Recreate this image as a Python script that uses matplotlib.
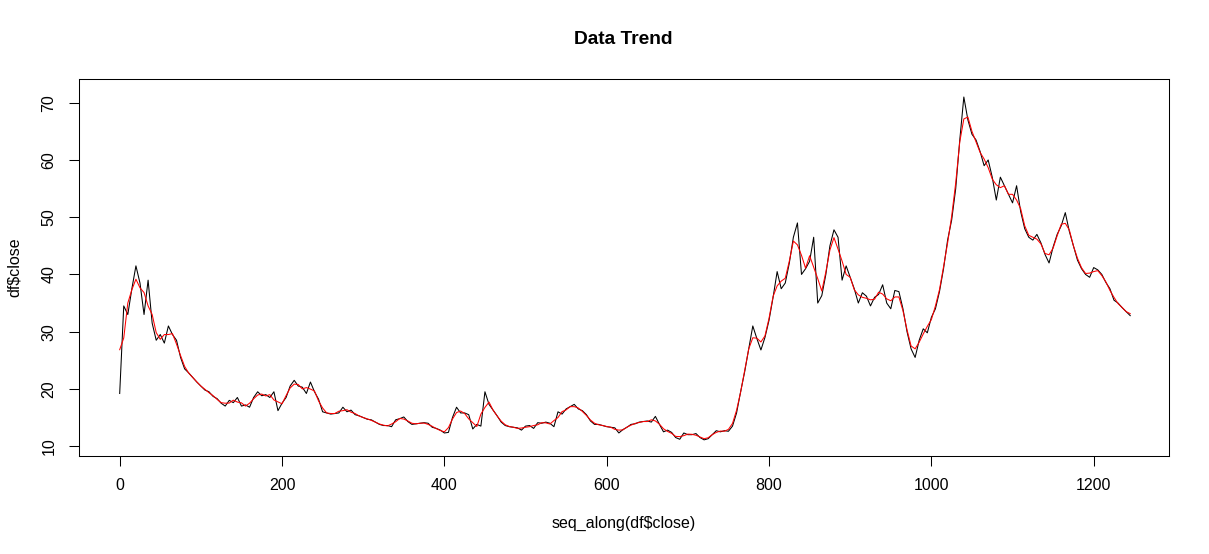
import numpy as np
import pandas as pd
import matplotlib
matplotlib.use("Agg")
import matplotlib.pyplot as plt

plt.rcParams['font.family'] = ['Liberation Sans', 'DejaVu Sans']

# index step of the sampled series
step = 5
close = [
    19.2, 34.5, 33.0, 37.5, 41.5, 38.5, 33.0, 39.0, 31.5, 28.5,
    29.5, 28.0, 31.0, 29.5, 28.5, 25.5, 23.5, 22.8, 22.0, 21.2,
    20.5, 19.8, 19.5, 18.7, 18.3, 17.5, 17.0, 18.0, 17.6, 18.5,
    17.0, 17.2, 16.8, 18.5, 19.5, 18.8, 19.0, 18.5, 19.5, 16.2,
    17.5, 18.5, 20.5, 21.5, 20.5, 20.3, 19.2, 21.2, 19.5, 18.2,
    16.0, 15.8, 15.6, 15.7, 15.8, 16.8, 16.0, 16.3, 15.5, 15.3,
    15.0, 14.7, 14.6, 14.2, 13.8, 13.6, 13.6, 13.4, 14.6, 14.8,
    15.1, 14.3, 13.8, 13.9, 14.0, 14.1, 14.0, 13.3, 13.1, 12.8,
    12.3, 12.4, 15.0, 16.8, 15.8, 15.8, 15.5, 13.0, 13.8, 13.5,
    19.5, 17.3, 16.3, 15.3, 14.2, 13.6, 13.4, 13.3, 13.2, 12.8,
    13.5, 13.6, 13.1, 14.1, 14.0, 14.2, 14.0, 13.4, 16.0, 15.6,
    16.5, 16.9, 17.3, 16.5, 16.2, 15.5, 14.4, 13.8, 13.8, 13.6,
    13.4, 13.3, 13.2, 12.3, 12.9, 13.3, 13.8, 13.9, 14.2, 14.3,
    14.4, 14.2, 15.2, 13.8, 12.5, 12.8, 12.4, 11.5, 11.2, 12.3,
    12.0, 12.0, 12.2, 11.5, 11.1, 11.3, 12.0, 12.7, 12.5, 12.7,
    12.6, 13.5, 15.8, 19.5, 23.0, 27.0, 31.0, 28.8, 26.8, 29.0,
    32.0, 36.0, 40.5, 37.5, 38.5, 42.0, 46.5, 49.0, 40.0, 41.0,
    42.3, 46.5, 35.0, 36.3, 40.0, 45.0, 47.8, 46.5, 39.0, 41.5,
    39.5, 37.5, 35.0, 36.8, 36.2, 34.5, 36.0, 36.5, 38.2, 35.0,
    34.0, 37.2, 37.0, 34.0, 30.0, 27.0, 25.5, 28.5, 30.5, 29.8,
    32.5, 34.0, 37.0, 41.0, 46.0, 49.5, 55.0, 63.5, 71.0, 67.0,
    64.5, 63.5, 61.5, 59.0, 60.0, 57.0, 53.0, 57.0, 55.5, 54.0,
    52.5, 55.5, 51.0, 48.0, 46.5, 46.0, 47.0, 45.5, 43.5, 42.0,
    44.8, 47.0, 48.5, 50.8, 47.5, 45.0, 42.5, 41.0, 40.0, 39.5,
    41.2, 40.8, 40.0, 38.6, 37.5, 35.5, 35.0, 34.2, 33.5, 32.8,
]
index = np.arange(len(close)) * step
smooth = pd.Series(close).rolling(window=3, center=True, min_periods=1).mean().values

x_ticks = [0, 200, 400, 600, 800, 1000, 1200]
y_ticks = [10, 20, 30, 40, 50, 60, 70]

W, H = 1209, 554
fig = plt.figure(figsize=(W / 100, H / 100), dpi=100)
ax = fig.add_axes([78.7 / W, 1 - 456.1 / H, (1168.7 - 78.7) / W, (456.1 - 78.7) / H])

ax.plot(index, close, color='black', lw=0.75)
ax.plot(index, smooth, color='red', lw=0.75)

ax.set_xlim(-50.5, 1292.4)
ax.set_ylim(8.26, 74.2)
ax.set_xticks(x_ticks)
ax.set_yticks(y_ticks)
ax.tick_params(axis='both', direction='out', length=6.9, width=0.75,
               labelsize=11.5, colors='black', pad=9)
for lab in ax.get_yticklabels():
    lab.set_rotation(90)
    lab.set_va('center')
for s in ax.spines.values():
    s.set_linewidth(0.75)

fig.text((78.7 + 1168.7) / 2 / W, 1 - 523 / H, 'seq_along(df$close)',
         ha='center', va='center', fontsize=11.5)
fig.text(14 / W, 1 - (78.7 + 456.1) / 2 / H, 'df$close',
         ha='center', va='center', rotation=90, fontsize=11.5)
fig.text((78.7 + 1168.7) / 2 / W, 1 - 40 / H, 'Data Trend',
         ha='center', va='center', fontsize=13.8, fontweight='bold')

fig.savefig('out.png', dpi=100, facecolor='white')
